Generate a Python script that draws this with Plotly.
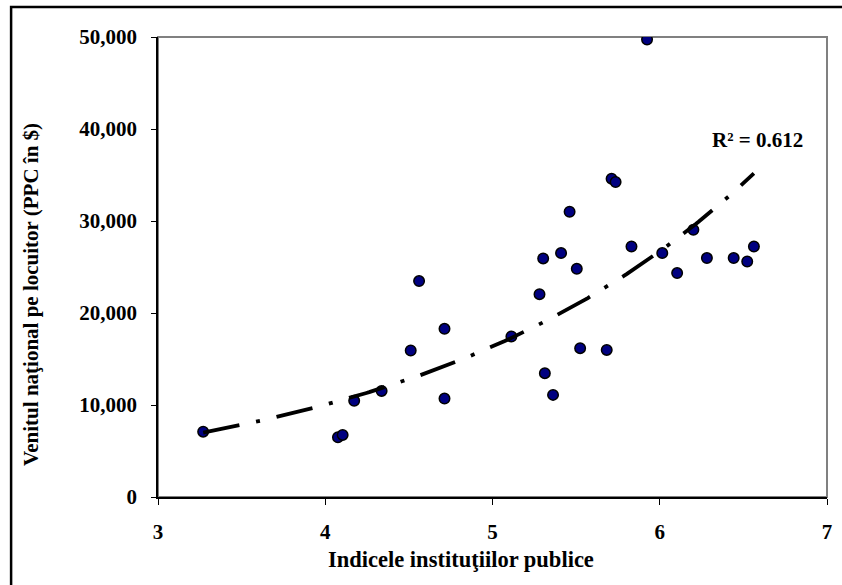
import numpy as np
import plotly.graph_objects as go

# Data
institutii = [3.27, 4.076, 4.104, 4.173, 4.337, 4.511, 4.561, 4.713, 4.713, 5.113,
              5.281, 5.303, 5.313, 5.362, 5.41, 5.461, 5.504, 5.524, 5.683, 5.712,
              5.736, 5.831, 5.924, 6.015, 6.104, 6.201, 6.282, 6.442, 6.523, 6.563]
venit = [7100, 6500, 6750, 10450, 11530, 15920, 23470, 18280, 10700, 17440,
         22050, 25930, 13460, 11100, 26510, 31010, 24800, 16180, 15990, 34600,
         34240, 27230, 49720, 26510, 24340, 29050, 25970, 25970, 25600, 27230]
r2_label = "R² = 0.612"
x_title = "Indicele instituţiilor publice"
y_title = "Venitul naţional pe locuitor (PPC în $)"
x_ticks = [3, 4, 5, 6, 7]
y_ticks = [0, 10000, 20000, 30000, 40000, 50000]

x = np.array(institutii)
y = np.array(venit)
b, lna = np.polyfit(x, np.log(y), 1)
xt = np.linspace(x.min(), x.max(), 200)
yt = np.exp(lna + b * xt)

FONT = "Liberation Serif, Times New Roman, serif"
FS = 21
bold = dict(family=FONT, size=FS, color="black", weight="bold")

fig = go.Figure()
fig.add_trace(go.Scatter(
    x=institutii, y=venit, mode="markers",
    marker=dict(size=10.5, color="#000080", line=dict(color="black", width=1.5)),
    showlegend=False, hoverinfo="skip"))
fig.add_trace(go.Scatter(
    x=xt, y=yt, mode="lines",
    line=dict(color="black", width=3.8, dash="37px,17px,4px,17px"),
    showlegend=False, hoverinfo="skip"))

fig.add_annotation(x=6.585, y=38800, text=r2_label, showarrow=False, font=bold)

L, R, T, B = 158, 10, 37, 88
W, H = 842, 585
pw, ph = W - L - R, H - T - B


def px_x(p):
    return (p - L) / pw


def px_y(p):
    return (H - B - p) / ph


fig.add_annotation(xref="paper", yref="paper", x=px_x(463), y=px_y(559),
                   text=x_title, showarrow=False,
                   font=dict(family=FONT, size=22.5, color="black", weight="bold"),
                   xanchor="center", yanchor="middle")
fig.add_annotation(xref="paper", yref="paper", x=px_x(30), y=px_y(294),
                   text=y_title, showarrow=False, font=bold, textangle=-90,
                   xanchor="center", yanchor="middle")

# plot-area border (grey)
fig.add_shape(type="rect", xref="paper", yref="paper", x0=0, y0=0, x1=1, y1=1,
              line=dict(color="#808080", width=2), layer="below")
# outer chart border (left & top)
bx = px_x(10)
by = px_y(7)
fig.add_shape(type="path", xref="paper", yref="paper",
              path=f"M {bx},-0.3 L {bx},{by} L 1.3,{by}",
              line=dict(color="black", width=2.5))

fig.update_layout(
    width=W, height=H,
    margin=dict(l=L, r=R, t=T, b=B),
    paper_bgcolor="white", plot_bgcolor="white",
    font=dict(family=FONT, color="black"),
)
fig.update_xaxes(
    range=[3, 7], tickvals=x_ticks, showgrid=False, zeroline=False,
    showline=True, linecolor="black", linewidth=1.5,
    ticks="outside", ticklen=6, tickcolor="black", tickwidth=1,
    ticklabelstandoff=9, tickfont=bold,
)
fig.update_yaxes(
    range=[0, 50000], tickvals=y_ticks, tickformat=",d", showgrid=False, zeroline=False,
    showline=True, linecolor="black", linewidth=1.5,
    ticks="outside", ticklen=5, tickcolor="black", tickwidth=1,
    ticklabelstandoff=10, tickfont=bold,
)

fig.write_html("out.html")
